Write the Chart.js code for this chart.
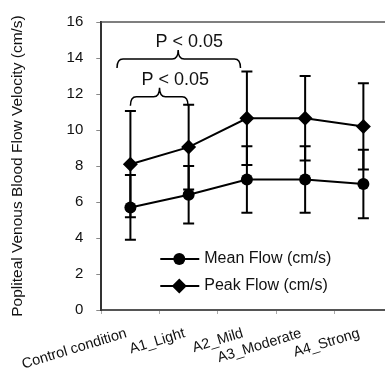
<!DOCTYPE html>
<html>
<head>
<meta charset="utf-8">
<script src="https://cdn.jsdelivr.net/npm/chart.js@4.4.0/dist/chart.umd.min.js"></script>
<style>
html, body { margin: 0; padding: 0; background: #fff; overflow: hidden; }
#wrap { width: 385px; height: 368px; overflow: hidden; }
</style>
</head>
<body>
<div id="wrap"><canvas id="flowChart" width="400" height="368"></canvas></div>
<script>
const categories = ['Control condition', 'A1_Light', 'A2_Mild', 'A3_Moderate', 'A4_Strong'];
const meanFlow = [5.7, 6.4, 7.25, 7.25, 7.0];
const meanFlowErr = [1.8, 1.6, 1.85, 1.85, 1.9];
const peakFlow = [8.1, 9.05, 10.65, 10.65, 10.2];
const peakFlowErr = [2.95, 2.35, 2.6, 2.35, 2.4];
const yTicks = [0, 2, 4, 6, 8, 10, 12, 14, 16];

// significance braces, in category index / value units
const braceFrom = [0, -0.23];
const braceTo = [0.99, 1.89];
const braceTip = [0.5, 0.82];
const braceLevel = [11.85, 13.95];
const braceText = ['P < 0.05', 'P < 0.05'];
const braceTextX = [0.77, 1.01];
const braceTextY = [12.75, 14.9];

const FONT = '"Liberation Sans", Arial, sans-serif';

const errorBars = {
    id: 'errorBars',
    beforeDatasetsDraw(chart) {
        const { ctx, scales: { x, y } } = chart;
        ctx.save();
        ctx.strokeStyle = '#000';
        ctx.lineWidth = 2;
        chart.data.datasets.forEach(ds => {
            ds.errors.forEach((e, j) => {
                const px = x.getPixelForValue(j);
                const top = y.getPixelForValue(ds.data[j] + e);
                const bot = y.getPixelForValue(ds.data[j] - e);
                ctx.beginPath();
                ctx.moveTo(px, top);
                ctx.lineTo(px, bot);
                ctx.moveTo(px - 5.5, top);
                ctx.lineTo(px + 5.5, top);
                ctx.moveTo(px - 5.5, bot);
                ctx.lineTo(px + 5.5, bot);
                ctx.stroke();
            });
        });
        ctx.restore();
    }
};

const extras = {
    id: 'extras',
    afterDraw(chart) {
        const { ctx, chartArea, scales: { x, y } } = chart;
        ctx.save();

        // top frame line
        ctx.strokeStyle = '#555';
        ctx.lineWidth = 1.5;
        ctx.beginPath();
        ctx.moveTo(chartArea.left, chartArea.top);
        ctx.lineTo(chartArea.right, chartArea.top);
        ctx.stroke();

        // slanted category labels
        ctx.fillStyle = '#111';
        ctx.font = '14.5px ' + FONT;
        ctx.textAlign = 'right';
        ctx.textBaseline = 'middle';
        categories.forEach((c, i) => {
            ctx.save();
            ctx.translate(x.getPixelForValue(i) - 4, chartArea.bottom + 23);
            ctx.rotate(-17 * Math.PI / 180);
            ctx.fillText(c, 0, 0);
            ctx.restore();
        });

        // braces
        ctx.strokeStyle = '#000';
        ctx.lineWidth = 1.5;
        braceText.forEach((t, i) => {
            const x1 = x.getPixelForValue(braceFrom[i]);
            const x2 = x.getPixelForValue(braceTo[i]);
            const xm = x.getPixelForValue(braceTip[i]);
            const yl = y.getPixelForValue(braceLevel[i]);
            const h = 9, r = 6;
            ctx.beginPath();
            ctx.moveTo(x1, yl + h);
            ctx.quadraticCurveTo(x1, yl, x1 + r, yl);
            ctx.lineTo(xm - r, yl);
            ctx.quadraticCurveTo(xm, yl, xm, yl - h);
            ctx.quadraticCurveTo(xm, yl, xm + r, yl);
            ctx.lineTo(x2 - r, yl);
            ctx.quadraticCurveTo(x2, yl, x2, yl + h);
            ctx.stroke();

            ctx.fillStyle = '#111';
            ctx.font = '18px ' + FONT;
            ctx.textAlign = 'center';
            ctx.textBaseline = 'middle';
            ctx.fillText(t, x.getPixelForValue(braceTextX[i]), y.getPixelForValue(braceTextY[i]));
        });

        // legend inside plot
        const lx = chartArea.left + 59;
        chart.data.datasets.forEach((ds, i) => {
            const ly = chartArea.bottom - 51 + i * 27;
            ctx.strokeStyle = '#000';
            ctx.lineWidth = 2;
            ctx.beginPath();
            ctx.moveTo(lx, ly);
            ctx.lineTo(lx + 39, ly);
            ctx.stroke();
            ctx.fillStyle = '#000';
            Chart.helpers.drawPoint(ctx, {
                pointStyle: ds.pointStyle,
                radius: ds.pointRadius,
                borderWidth: 0
            }, lx + 19, ly);
            ctx.fillStyle = '#111';
            ctx.font = '16px ' + FONT;
            ctx.textAlign = 'left';
            ctx.textBaseline = 'middle';
            ctx.fillText(ds.label, lx + 44, ly);
        });
        ctx.restore();
    }
};

new Chart(document.getElementById('flowChart'), {
    type: 'line',
    data: {
        labels: categories,
        datasets: [{
            label: 'Mean Flow (cm/s)',
            data: meanFlow,
            errors: meanFlowErr,
            borderColor: '#000',
            backgroundColor: '#000',
            borderWidth: 2,
            pointStyle: 'circle',
            pointRadius: 6,
            pointBorderWidth: 0,
            tension: 0
        }, {
            label: 'Peak Flow (cm/s)',
            data: peakFlow,
            errors: peakFlowErr,
            borderColor: '#000',
            backgroundColor: '#000',
            borderWidth: 2,
            pointStyle: 'rectRot',
            pointRadius: 7.5,
            pointBorderWidth: 0,
            tension: 0
        }]
    },
    options: {
        responsive: false,
        animation: false,
        layout: { padding: { left: 4, top: 17, right: 0, bottom: 0 } },
        plugins: {
            legend: { display: false },
            tooltip: { enabled: false }
        },
        scales: {
            x: {
                offset: true,
                afterFit(scale) { scale.height = 58; },
                grid: { offset: true, drawOnChartArea: false, tickLength: 4, color: '#aaa' },
                border: { color: '#555', width: 2 },
                ticks: { display: false }
            },
            y: {
                min: 0,
                max: 16,
                afterBuildTicks(scale) {
                    scale.ticks = yTicks.map(v => ({ value: v }));
                },
                grid: { drawOnChartArea: false, tickLength: 5, color: '#888' },
                border: { color: '#333', width: 2 },
                ticks: {
                    padding: 13,
                    color: '#111',
                    font: { family: FONT, size: 15 }
                },
                title: {
                    display: true,
                    text: 'Popliteal Venous Blood Flow Velocity (cm/s)',
                    color: '#111',
                    font: { family: FONT, size: 15.5 },
                    padding: { top: 4, bottom: 27 }
                }
            }
        }
    },
    plugins: [errorBars, extras]
});
</script>
</body>
</html>
